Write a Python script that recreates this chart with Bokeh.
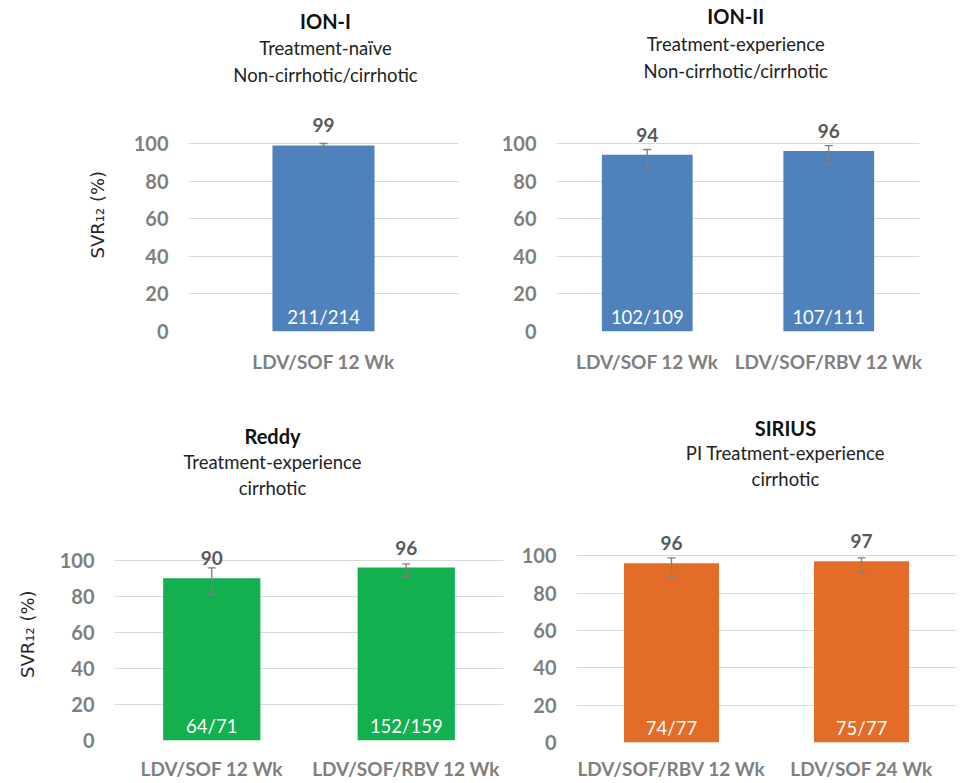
from bokeh.plotting import figure
from bokeh.models import (ColumnDataSource, FactorRange, Range1d, FixedTicker,
                          Whisker, TeeHead)
from bokeh.layouts import row, column
from bokeh.core.properties import value
from bokeh.embed import file_html
from bokeh.resources import INLINE

# ---------------- data ----------------
ion1_cats = ["LDV/SOF 12 Wk"]
ion1_svr = [99]
ion1_lo = [97]
ion1_hi = [100]
ion1_frac = ["211/214"]

ion2_cats = ["LDV/SOF 12 Wk", "LDV/SOF/RBV 12 Wk"]
ion2_svr = [94, 96]
ion2_lo = [86.5, 88.7]
ion2_hi = [96.8, 98.9]
ion2_frac = ["102/109", "107/111"]

reddy_cats = ["LDV/SOF 12 Wk", "LDV/SOF/RBV 12 Wk"]
reddy_svr = [90, 96]
reddy_lo = [81, 90.9]
reddy_hi = [95.8, 98]
reddy_frac = ["64/71", "152/159"]

sirius_cats = ["LDV/SOF/RBV 12 Wk", "LDV/SOF 24 Wk"]
sirius_svr = [96, 97]
sirius_lo = [89.1, 91.2]
sirius_hi = [98.9, 98.9]
sirius_frac = ["74/77", "75/77"]

y_ticks = [0, 20, 40, 60, 80, 100]
y_label = "SVR\u2081\u2082 (%)"

ion1_titles = ["ION-I", "Treatment-na\u00efve", "Non-cirrhotic/cirrhotic"]
ion2_titles = ["ION-II", "Treatment-experience", "Non-cirrhotic/cirrhotic"]
reddy_titles = ["Reddy", "Treatment-experience", "cirrhotic"]
sirius_titles = ["SIRIUS", "PI Treatment-experience", "cirrhotic"]

FONT = "Lato"
TICK_COLOR = "#7f7f7f"
BLUE = "#4f81bd"
GREEN = "#12b04f"
ORANGE = "#e36c28"


def blank(width, height):
    p = figure(width=width, height=height, x_range=Range1d(0, width),
               y_range=Range1d(0, height), output_backend="svg",
               toolbar_location=None, min_border=0)
    p.axis.visible = False
    p.grid.visible = False
    p.outline_line_color = None
    return p


def title_fig(width, height, titles, cx, ys):
    """Text-only strip holding the three title lines (ys measured from top)."""
    p = blank(width, height)
    for i, (t, y) in enumerate(zip(titles, ys)):
        p.text(x=[cx], y=[height - y], text=[t], text_align="center",
               text_baseline="middle", text_font=value(FONT),
               text_font_size="20px" if i == 0 else "18.5px",
               text_font_style="bold" if i == 0 else "normal",
               text_color="#111111" if i == 0 else "#222222")
    return p


def ylabel_fig(width, height, cx, cy):
    p = blank(width, height)
    p.text(x=[cx], y=[height - cy], text=[y_label], angle=1.5708,
           text_align="center", text_baseline="middle",
           text_font=value("DejaVu Sans"), text_font_size="18px",
           text_color="#262626")
    return p


def chart(cats, svr, lo, hi, frac, color, width, height, borders, y_end,
          bar_width, xstand):
    left, right, top, bottom = borders
    src = ColumnDataSource(dict(cat=cats, svr=svr, lo=lo, hi=hi, frac=frac,
                                lab=[str(v) for v in svr]))
    p = figure(x_range=FactorRange(*cats), y_range=Range1d(0, y_end),
               width=width, height=height, output_backend="svg",
               toolbar_location=None, min_border_left=left,
               min_border_right=right, min_border_top=top,
               min_border_bottom=bottom)
    p.outline_line_color = None

    p.xgrid.visible = False
    p.ygrid.ticker = FixedTicker(ticks=y_ticks)
    p.ygrid.grid_line_color = "#d9d9d9"
    p.ygrid.grid_line_width = 1.2

    p.yaxis.ticker = FixedTicker(ticks=y_ticks)
    for ax in (p.xaxis[0], p.yaxis[0]):
        ax.axis_line_color = None
        ax.major_tick_line_color = None
        ax.minor_tick_line_color = None
        ax.major_tick_out = 0
        ax.major_tick_in = 0
        ax.major_label_text_font = FONT
        ax.major_label_text_font_style = "bold"
        ax.major_label_text_color = TICK_COLOR
    p.yaxis.major_label_text_font_size = "20px"
    p.yaxis.major_label_standoff = 20
    p.xaxis.major_label_text_font_size = "19px"
    p.xaxis.major_label_standoff = xstand

    p.vbar(x="cat", top="svr", width=bar_width, source=src,
           fill_color=color, line_color=None)

    head = dict(size=8, line_color="#7f7f7f", line_width=1.3)
    p.add_layout(Whisker(base="cat", upper="hi", lower="lo", source=src,
                         level="overlay", line_color="#7f7f7f", line_width=1.3,
                         upper_head=TeeHead(**head), lower_head=TeeHead(**head)))

    p.text(x="cat", y="svr", text="lab", source=src, y_offset=-20,
           text_align="center", text_baseline="middle",
           text_font=value(FONT), text_font_style="bold",
           text_font_size="19px", text_color="#595959")
    p.text(x="cat", y=0, text="frac", source=src, y_offset=-15,
           text_align="center", text_baseline="middle",
           text_font=value(FONT), text_font_size="18.5px", text_color="white")
    return p


# ---- top row (y 0..400) ----
t1 = title_fig(478, 100, ion1_titles, 325, [20, 47, 74])
yl1 = ylabel_fig(120, 300, 97, 145)
c1 = chart(ion1_cats, ion1_svr, ion1_lo, ion1_hi, ion1_frac, BLUE,
           358, 300, (68, 20, 5, 69), 226 / 1.88, 0.378, 18)
t2 = title_fig(482, 100, ion2_titles, 238, [15, 43, 70])
c2 = chart(ion2_cats, ion2_svr, ion2_lo, ion2_hi, ion2_frac, BLUE,
           482, 300, (78, 41, 5, 69), 226 / 1.88, 0.5, 18)

# ---- bottom row (y 400..782) ----
t3 = title_fig(518, 115, reddy_titles, 272, [35, 61, 87])
yl3 = ylabel_fig(50, 267, 27, 138)
c3 = chart(reddy_cats, reddy_svr, reddy_lo, reddy_hi, reddy_frac, GREEN,
           468, 267, (64, 15, 5, 39), 223 / 1.826, 0.5, 16)
t4 = title_fig(442, 115, sirius_titles, 243, [27, 52, 78])
c4 = chart(sirius_cats, sirius_svr, sirius_lo, sirius_hi, sirius_frac, ORANGE,
           442, 267, (57, 4, 5, 37), 225 / 1.893, 0.5, 14)

layout = column(
    row(column(t1, row(yl1, c1)), column(t2, c2)),
    row(column(t3, row(yl3, c3)), column(t4, c4)),
)

open("out.html", "w").write(file_html(layout, INLINE))
